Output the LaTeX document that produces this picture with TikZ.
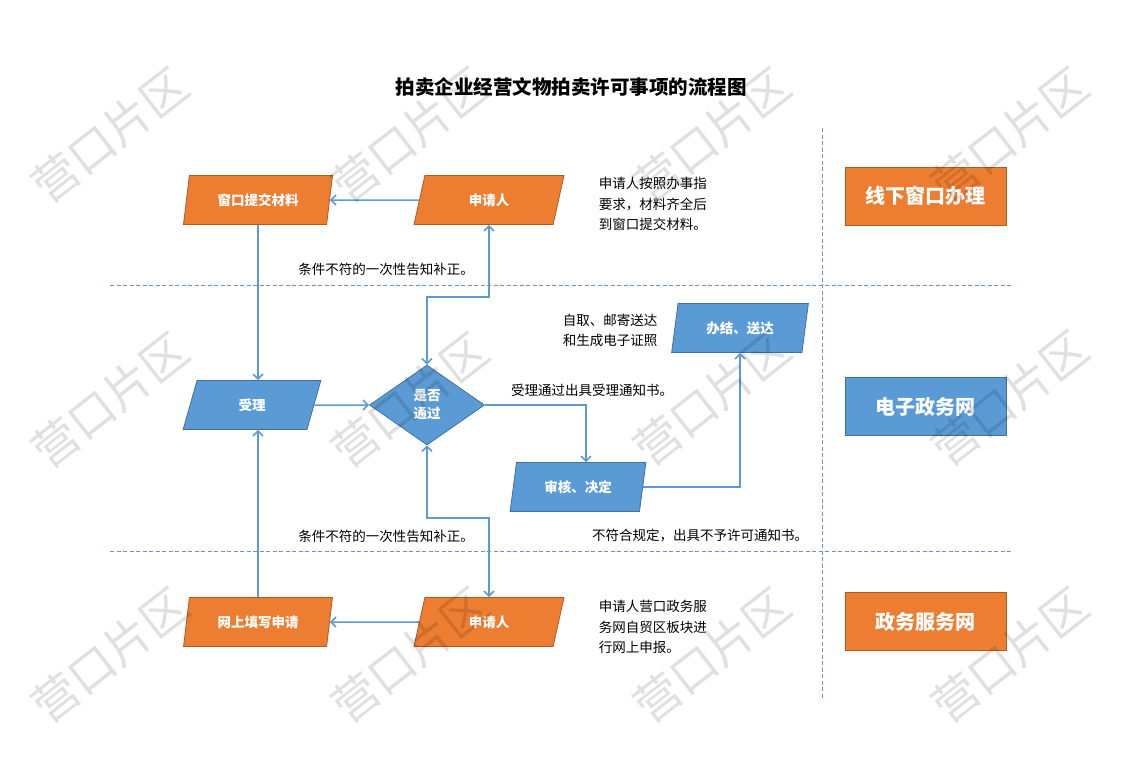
\documentclass[tikz,border=0pt]{standalone}
\usepackage{fontspec}
\setmainfont{Noto Sans CJK SC}
\usetikzlibrary{shapes.geometric,arrows.meta}
\definecolor{orangefill}{HTML}{ED7D31}
\definecolor{orangeedge}{HTML}{AE5A21}
\definecolor{bluefill}{HTML}{5B9BD5}
\definecolor{blueedge}{HTML}{41719C}
\definecolor{flowblue}{HTML}{5B9BD5}
\definecolor{lanegray}{HTML}{6F93C4}
\begin{document}
\begin{tikzpicture}[x=1pt,y=-1pt,->,>={Straight Barb[length=5pt,width=10pt]},line width=1.5pt,draw=flowblue,
		orange node/.style={trapezium,trapezium left angle=75,trapezium right angle=105,
			trapezium stretches=true,minimum width=150pt,minimum height=49pt,inner sep=0pt,
			fill=orangefill,draw=orangeedge,line width=0.8pt,text=white,
			font=\bfseries\fontsize{13.5}{16}\selectfont},
		blue node/.style={orange node,fill=bluefill,draw=blueedge},
		choice node/.style={diamond,minimum width=115pt,minimum height=80pt,inner sep=0pt,
			fill=bluefill,draw=blueedge,line width=0.8pt,text=white,align=center,
			font=\bfseries\fontsize{13.5}{18}\selectfont},
		lane box/.style={rectangle,minimum width=161pt,minimum height=58pt,line width=0.8pt,
			text=white,font=\bfseries\fontsize{20}{24}\selectfont},
		note/.style={align=left,inner sep=0pt,font=\fontsize{13.5}{20.5}\selectfont},
		lane/.style={-,draw=lanegray,line width=0.8pt,dash pattern=on 4pt off 2.5pt}]
		\useasboundingbox (0,0) rectangle (1122,774);
		\node[font=\bfseries\fontsize{19.5}{22}\selectfont] (title) at (571,87) {拍卖企业经营文物拍卖许可事项的流程图};
		
		% lanes
		\draw[lane] (110,285) -- (1012,285);
		\draw[lane] (110,551) -- (1012,551);
		\draw[lane] (822,128) -- (822,700);
		
		\node[orange node] (win) at (258,200) {窗口提交材料};
		\node[orange node] (app1) at (489,200) {申请人};
		\node[note,anchor=west] (note1) at (598,204) {申请人按照办事指\\要求，材料齐全后\\到窗口提交材料。};
		\node[lane box,fill=orangefill,draw=orangeedge] (offline) at (925.5,196) {线下窗口办理};
		
		\node[blue node,minimum width=138pt] (accept) at (252,405) {受理};
		\node[choice node] (pass) at (427,405) {是否\\通过};
		\node[blue node,minimum width=136pt] (check) at (578,487) {审核、决定};
		\node[blue node,minimum width=137pt] (done) at (740,328) {办结、送达};
		\node[note,anchor=west] (note2) at (562,330.5) {自取、邮寄送达\\和生成电子证照};
		\node[lane box,fill=bluefill,draw=blueedge] (egov) at (925.5,406.5) {电子政务网};
		
		\node[orange node] (web) at (258,622) {网上填写申请};
		\node[orange node] (app2) at (489,622) {申请人};
		\node[note,anchor=west] (note3) at (598,627) {申请人营口政务服\\务网自贸区板块进\\行网上申报。};
		\node[lane box,fill=orangefill,draw=orangeedge] (gov) at (925.5,621.5) {政务服务网};
		
		\node[font=\fontsize{13.5}{16}\selectfont] (fix1) at (386,269) {条件不符的一次性告知补正。};
		\node[font=\fontsize{13.5}{16}\selectfont] (fix2) at (386,536) {条件不符的一次性告知补正。};
		\node[font=\fontsize{13.5}{16}\selectfont] (ok) at (592,390) {受理通过出具受理通知书。};
		\node[font=\fontsize{13.5}{16}\selectfont] (no) at (700,535) {不符合规定，出具不予许可通知书。};
		
		\coordinate (up) at (0,297);
		\coordinate (down) at (0,518);
		
		\draw (app1.west) -- (win.east);
		\draw (win.south) -- (win.south |- accept.north);
		\draw (app2.west) -- (web.east);
		\draw (web.north) -- (web.north |- accept.south);
		\draw (accept.east) -- (pass.west);
		\draw[<->] (pass.north) -- (pass.north |- up) -| (app1.south);
		\draw[<->] (pass.south) -- (pass.south |- down) -| (app2.north);
		\draw (pass.east) -| ([xshift=8pt]check.north);
		\draw (check.east) -| (done.south);
		
		% watermark
		\foreach \wx/\wy [count=\i] in {110/135,410/135,712/135,1010/135,110/400,410/400,712/398,1010/398,110/655,410/655,712/655,1010/655}
			\node[rotate=38,text=black,text opacity=0.12,font=\fontsize{46}{50}\selectfont] (mark\i) at (\wx,\wy) {营口片区};
\end{tikzpicture}
\end{document}
